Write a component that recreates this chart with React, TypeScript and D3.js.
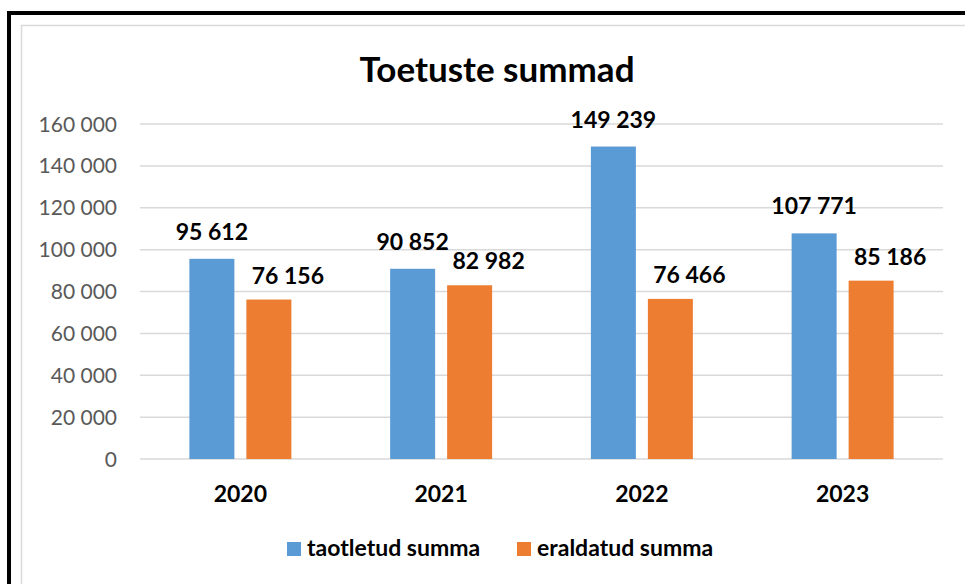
import React from "react";
import * as d3 from "d3";

const categories = ["2020", "2021", "2022", "2023"];
const seriesNames = ["taotletud summa", "eraldatud summa"];
const taotletud = [95612, 90852, 149239, 107771];
const eraldatud = [76156, 82982, 76466, 85186];
const yTicks = [0, 20000, 40000, 60000, 80000, 100000, 120000, 140000, 160000];
const title = "Toetuste summad";
const colors = ["#5b9bd5", "#ed7d31"];

const fmt = (v: number) => d3.format(",")(v).replace(/,/g, " ");
const FONT = "Lato, 'Open Sans', sans-serif";

export default function App() {
  const W = 965, H = 584;
  const x0 = 140, x1 = 943, yTop = 124, yBot = 459;
  const x = d3.scaleBand().domain(categories).range([x0, x1]).paddingInner(0).paddingOuter(0);
  const y = d3.scaleLinear().domain([0, 160000]).range([yBot, yTop]);
  const barW = 45, gap = 12;
  const series = [taotletud, eraldatud];
  const labelDx = [0, 19];
  const labelDy = [19, 16];
  return (
    <svg width={W} height={H} style={{ position: "absolute", left: 0, top: 0, background: "#fff" }} fontFamily={FONT}>
      <rect x={0} y={0} width={W} height={H} fill="#fff" />
      <rect x={9} y={13} width={2000} height={2000} fill="none" stroke="#000" strokeWidth={4} />
      <rect x={21.5} y={25.5} width={2000} height={2000} fill="none" stroke="#d9d9d9" strokeWidth={1.5} />
      <text x={497} y={82} textAnchor="middle" fontSize={35} fontWeight={700} fill="#000">{title}</text>
      {yTicks.map((t) => (
        <g key={t}>
          <line x1={x0} x2={x1} y1={y(t)} y2={y(t)} stroke="#d9d9d9" strokeWidth={1.5} />
          <text x={117} y={y(t) + 7.5} textAnchor="end" fontSize={21} fill="#595959">{fmt(t)}</text>
        </g>
      ))}
      {categories.map((c, i) => {
        const cx = (x(c) as number) + x.bandwidth() / 2;
        return (
          <g key={c}>
            {series.map((s, j) => {
              const bx = cx - gap / 2 - barW + j * (barW + gap);
              return (
                <g key={j}>
                  <rect x={bx} y={y(s[i])} width={barW} height={yBot - y(s[i])} fill={colors[j]} />
                  <text x={bx + barW / 2 + labelDx[j]} y={y(s[i]) - labelDy[j]} textAnchor="middle" fontSize={23} fontWeight={700} fill="#000">{fmt(s[i])}</text>
                </g>
              );
            })}
            <text x={cx} y={502} textAnchor="middle" fontSize={23} fontWeight={700} fill="#000">{c}</text>
          </g>
        );
      })}
      {seriesNames.map((n, j) => {
        const lx = [287, 517][j];
        return (
          <g key={n}>
            <rect x={lx} y={542} width={14} height={14} fill={colors[j]} />
            <text x={lx + 20} y={556} fontSize={23} fontWeight={700} fill="#000">{n}</text>
          </g>
        );
      })}
    </svg>
  );
}
